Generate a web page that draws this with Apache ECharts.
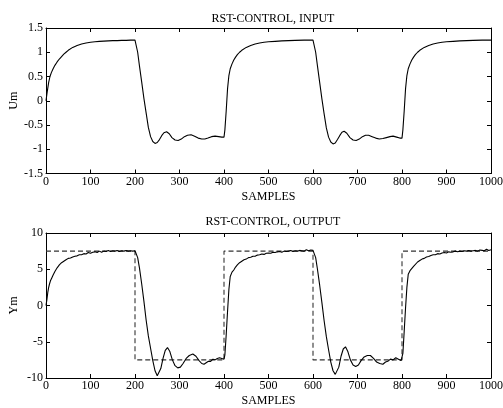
<!DOCTYPE html>
<html>
<head>
<meta charset="utf-8">
<script src="https://cdn.jsdelivr.net/npm/echarts@6/dist/echarts.min.js"></script>
<style>
html,body{margin:0;padding:0;background:#fff;}
#chart{width:503px;height:408px;}
</style>
</head>
<body>
<div id="chart"></div>
<script>
// ---- data (sample index, value) ----
var titles = ["RST-CONTROL, INPUT", "RST-CONTROL, OUTPUT"];
var yNames = ["Um", "Ym"];
var xName = "SAMPLES";

var inputUm = [
[0,0],[3,0.2],[6,0.38],[9,0.5],[12,0.58],[16,0.66],[20,0.73],[25,0.8],[30,0.86],[35,0.91],[40,0.96],[45,1.0],[50,1.04],[60,1.1],[70,1.14],[80,1.17],[90,1.19],[100,1.205],[110,1.215],[120,1.225],[130,1.23],[140,1.235],[150,1.24],[160,1.24],[170,1.245],[180,1.245],[190,1.25],[200,1.25],
[202,1.24],[206,1.0],[210,0.72],[215,0.39],[220,0.05],[225,-0.25],[230,-0.55],[235,-0.74],[240,-0.84],[245,-0.88],[250,-0.86],[255,-0.8],[260,-0.72],[265,-0.66],[271,-0.64],[277,-0.68],[283,-0.76],[290,-0.81],[297,-0.82],[304,-0.79],[311,-0.74],[318,-0.71],[326,-0.70],[334,-0.73],[342,-0.77],[350,-0.79],[357,-0.79],[364,-0.77],[372,-0.74],[380,-0.73],[388,-0.74],[395,-0.75],[400,-0.75],
[402,-0.6],[405,-0.2],[408,0.25],[411,0.52],[414,0.66],[418,0.76],[422,0.84],[426,0.9],[430,0.95],[435,1.0],[440,1.04],[450,1.1],[460,1.14],[470,1.17],[480,1.19],[490,1.205],[500,1.215],[515,1.225],[530,1.235],[545,1.24],[560,1.245],[580,1.25],[600,1.25],
[602,1.24],[606,1.0],[610,0.72],[615,0.38],[620,0.04],[625,-0.27],[630,-0.56],[635,-0.75],[640,-0.85],[645,-0.89],[650,-0.87],[655,-0.8],[660,-0.72],[665,-0.65],[670,-0.63],[676,-0.67],[683,-0.76],[690,-0.81],[697,-0.82],[704,-0.79],[711,-0.74],[718,-0.71],[725,-0.71],[733,-0.74],[741,-0.77],[749,-0.79],[757,-0.78],[765,-0.76],[773,-0.74],[780,-0.73],[788,-0.75],[795,-0.77],[800,-0.77],
[802,-0.6],[805,-0.2],[808,0.25],[811,0.52],[814,0.66],[818,0.76],[822,0.84],[826,0.9],[830,0.95],[835,1.0],[840,1.04],[850,1.1],[860,1.14],[870,1.17],[880,1.19],[890,1.205],[900,1.215],[915,1.225],[930,1.235],[945,1.24],[960,1.245],[980,1.25],[1000,1.25]
];

var outputYm = [
[0,0],[2,0.8],[4,1.8],[6,2.5],[8,3.0],[10,3.4],[13,3.8],[16,4.2],[20,4.7],[25,5.2],[30,5.6],[35,5.9],[40,6.1],[45,6.3],[50,6.5],[55,6.55],[60,6.7],[65,6.8],[70,6.85],[75,7.0],[80,7.0],[85,7.15],[90,7.1],[95,7.3],[100,7.2],[105,7.35],[110,7.4],[115,7.3],[120,7.5],[125,7.35],[130,7.5],[135,7.45],[140,7.6],[145,7.45],[150,7.55],[155,7.5],[160,7.6],[165,7.45],[170,7.55],[175,7.5],[180,7.6],[185,7.5],[190,7.55],[195,7.5],[200,7.55],
[203,7.5],[206,6.6],[210,5.2],[215,3.0],[220,0.6],[225,-2.0],[230,-4.2],[235,-5.9],[240,-7.6],[245,-9.0],[250,-9.7],[254,-9.5],[258,-8.7],[263,-7.3],[268,-6.2],[273,-5.8],[278,-6.3],[284,-7.5],[290,-8.3],[296,-8.6],[302,-8.5],[308,-8.0],[315,-7.3],[322,-6.9],[330,-6.7],[337,-7.0],[344,-7.6],[350,-8.0],[355,-8.1],[360,-7.9],[365,-7.7],[370,-7.7],[375,-7.4],[380,-7.5],[385,-7.3],[390,-7.2],[395,-7.3],[400,-7.4],
[402,-6.8],[405,-4.0],[408,-0.8],[411,2.2],[414,4.0],[418,4.6],[422,4.9],[426,5.3],[430,5.6],[435,5.9],[440,6.1],[445,6.3],[450,6.4],[455,6.6],[460,6.65],[465,6.8],[470,6.8],[475,6.95],[480,7.0],[485,7.1],[490,7.05],[495,7.2],[500,7.25],[505,7.2],[510,7.35],[515,7.3],[520,7.4],[525,7.45],[530,7.35],[535,7.5],[540,7.45],[545,7.5],[550,7.6],[555,7.45],[560,7.55],[565,7.5],[570,7.6],[575,7.55],[580,7.5],[585,7.7],[590,7.55],[595,7.65],[600,7.6],
[603,7.5],[606,6.6],[610,5.0],[615,2.8],[620,0.4],[625,-2.1],[630,-4.3],[635,-6.1],[640,-7.8],[645,-9.0],[650,-9.5],[654,-9.3],[658,-8.5],[663,-7.0],[668,-6.0],[673,-5.7],[678,-6.3],[684,-7.5],[690,-8.2],[696,-8.4],[702,-8.2],[708,-7.6],[715,-7.1],[722,-6.9],[729,-6.9],[736,-7.3],[743,-7.8],[750,-8.0],[757,-8.1],[763,-7.8],[768,-7.7],[774,-7.4],[780,-7.5],[786,-7.2],[792,-7.4],[798,-7.6],[800,-7.5],
[802,-6.6],[805,-3.5],[808,-0.3],[811,2.5],[814,4.3],[818,4.8],[822,5.0],[826,5.4],[830,5.6],[835,6.0],[840,6.2],[845,6.4],[850,6.5],[855,6.7],[860,6.75],[865,6.9],[870,7.0],[875,7.0],[880,7.15],[885,7.1],[890,7.25],[895,7.3],[900,7.25],[905,7.4],[910,7.35],[915,7.4],[920,7.5],[925,7.4],[930,7.5],[935,7.45],[940,7.55],[945,7.5],[950,7.6],[955,7.5],[960,7.55],[965,7.6],[970,7.5],[975,7.65],[980,7.6],[985,7.55],[990,7.75],[995,7.6],[1000,7.7]
];

var setpoint = [[0,7.5],[200,7.5],[200,-7.5],[400,-7.5],[400,7.5],[600,7.5],[600,-7.5],[800,-7.5],[800,7.5],[1000,7.5]];

var xTicks = {min:0, max:1000, interval:100};
var y1Ticks = {min:-1.5, max:1.5, interval:0.5};
var y2Ticks = {min:-10, max:10, interval:5};

// ---- chart ----
var FONT = "Liberation Serif";
var FS = 12;
var chart = echarts.init(document.getElementById('chart'), null, {renderer:'canvas'});

function plain(v){ return String(v); }

function xAx(gi, top) {
  return {
    type:'value', gridIndex:gi, min:xTicks.min, max:xTicks.max, interval:xTicks.interval,
    position: top ? 'top' : 'bottom',
    name: top ? '' : xName, nameLocation:'middle', nameGap:17, nameMoveOverlap:false,
    nameTextStyle:{fontFamily:FONT, fontSize:FS, color:'#000'},
    axisLine:{show:true, onZero:false, lineStyle:{color:'#000', width:1}},
    axisTick:{show:true, inside:true, length:4, lineStyle:{color:'#000'}},
    axisLabel:{show:!top, fontFamily:FONT, fontSize:FS, color:'#000', margin:2, formatter:plain},
    splitLine:{show:false}
  };
}
function yAx(gi, t, name, right) {
  return {
    type:'value', gridIndex:gi, min:t.min, max:t.max, interval:t.interval,
    position: right ? 'right' : 'left',
    name: right ? '' : name, nameLocation:'middle', nameGap:26, nameRotate:90, nameMoveOverlap:false,
    nameTextStyle:{fontFamily:FONT, fontSize:FS, color:'#000'},
    axisLine:{show:true, onZero:false, lineStyle:{color:'#000', width:1}},
    axisTick:{show:true, inside:true, length:4, lineStyle:{color:'#000'}},
    axisLabel:{show:!right, fontFamily:FONT, fontSize:FS, color:'#000', margin:3, formatter:plain},
    splitLine:{show:false}
  };
}

var option = {
  animation:false,
  backgroundColor:'#fff',
  title:[
    {text:titles[0], left:268, top:8, textAlign:'center',
     textStyle:{fontFamily:FONT, fontSize:FS, fontWeight:'normal', color:'#000'}},
    {text:titles[1], left:268, top:211, textAlign:'center',
     textStyle:{fontFamily:FONT, fontSize:FS, fontWeight:'normal', color:'#000'}}
  ],
  grid:[
    {left:46, right:12, top:28, height:145.5, containLabel:false, outerBoundsMode:'none'},
    {left:46, right:12, top:233, height:145, containLabel:false, outerBoundsMode:'none'}
  ],
  xAxis:[xAx(0,false), xAx(0,true), xAx(1,false), xAx(1,true)],
  yAxis:[yAx(0,y1Ticks,yNames[0],false), yAx(0,y1Ticks,'',true), yAx(1,y2Ticks,yNames[1],false), yAx(1,y2Ticks,'',true)],
  series:[
    {type:'line', xAxisIndex:0, yAxisIndex:0, data:inputUm, showSymbol:false, smooth:false,
     lineStyle:{color:'#000', width:1.1}},
    {type:'line', xAxisIndex:2, yAxisIndex:2, data:setpoint, showSymbol:false,
     lineStyle:{color:'#333', width:1.1, type:[5,3]}},
    {type:'line', xAxisIndex:2, yAxisIndex:2, data:outputYm, showSymbol:false,
     lineStyle:{color:'#000', width:1.1}}
  ]
};
chart.setOption(option);
</script>
</body>
</html>
